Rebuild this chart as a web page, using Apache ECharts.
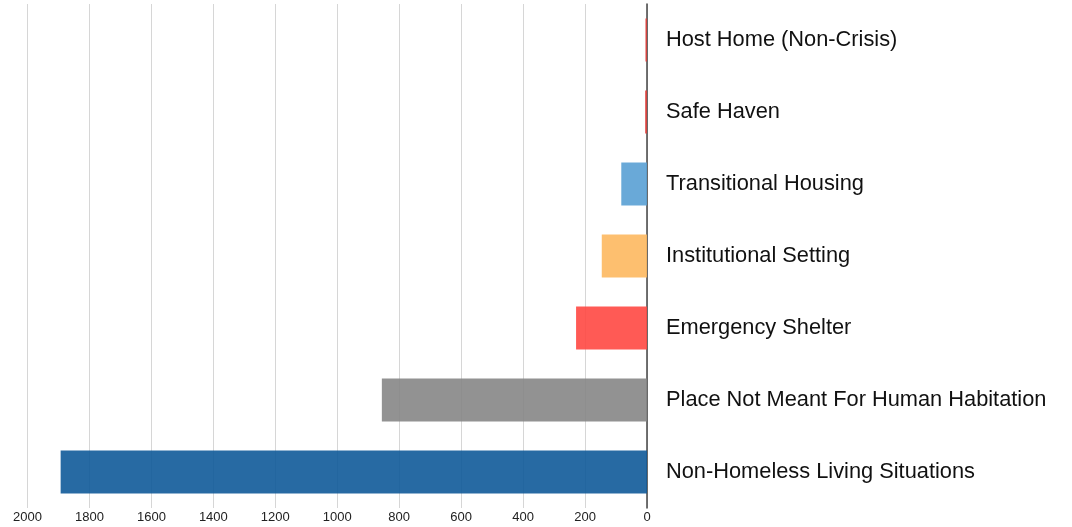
<!DOCTYPE html>
<html>
<head>
<meta charset="utf-8">
<script src="https://cdn.jsdelivr.net/npm/echarts@6/dist/echarts.min.js"></script>
<style>
html,body{margin:0;padding:0;background:#fff;}
#chart{width:1072px;height:527px;}
</style>
</head>
<body>
<div id="chart"></div>
<script>
var categories = ["Host Home (Non-Crisis)", "Safe Haven", "Transitional Housing", "Institutional Setting", "Emergency Shelter", "Place Not Meant For Human Habitation", "Non-Homeless Living Situations"];
var values = [5, 6, 83, 146, 229, 856, 1893];
var barColors = ["#dd3f3b", "#dd3f3b", "#59a0d4", "#fdb85f", "#ff4842", "#868686", "#0f5a99"];
var tickMin = 0, tickMax = 2000, tickStep = 200;

var chart = echarts.init(document.getElementById('chart'), null, {renderer: 'canvas'});
chart.setOption({
  animation: false,
  grid: {left: 27.5, right: 425, top: 4, bottom: 19, containLabel: false, outerBoundsMode: 'none'},
  xAxis: {
    type: 'value', inverse: true, min: tickMin, max: tickMax, interval: tickStep,
    axisLine: {show: false}, axisTick: {show: false},
    axisLabel: {color: '#222', fontFamily: '"Liberation Sans", Arial, sans-serif', fontSize: 13, margin: 3,
      formatter: function (v) { return String(v); }},
    splitLine: {show: true, lineStyle: {color: '#d6d6d6', width: 1}}
  },
  yAxis: {
    type: 'category', data: categories, inverse: true, position: 'right',
    axisLine: {show: true, lineStyle: {color: '#444', width: 1.5}},
    axisTick: {show: false},
    axisLabel: {color: '#111', fontFamily: '"Liberation Sans", Arial, sans-serif', fontSize: 21.8, margin: 19},
    splitLine: {show: false}
  },
  series: [{
    type: 'bar',
    data: values.map(function (v, i) { return {value: v, itemStyle: {color: barColors[i]}}; }),
    barCategoryGap: '40%',
    itemStyle: {opacity: 0.9},
    z: 1
  }]
});
</script>
</body>
</html>
